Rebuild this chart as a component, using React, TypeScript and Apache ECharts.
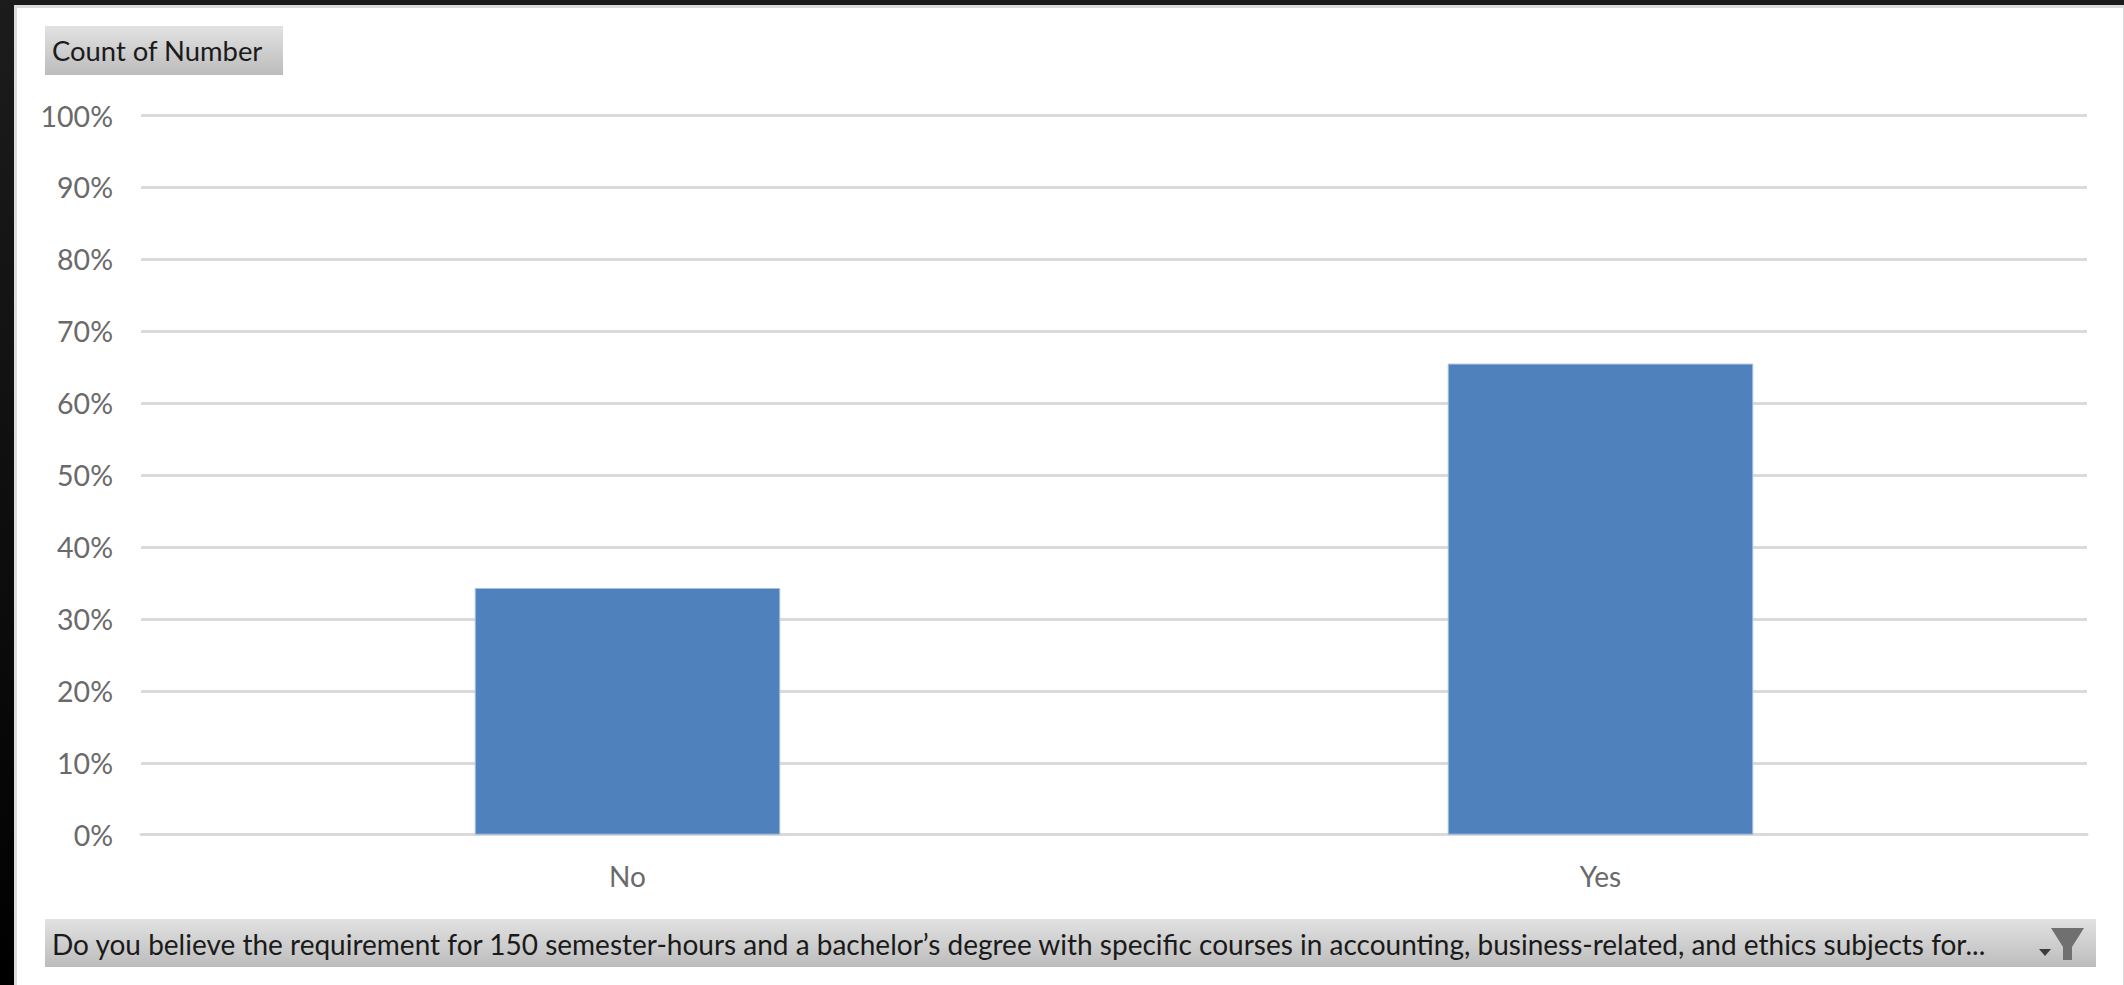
import React, { useEffect, useRef } from "react";
import * as echarts from "echarts";

const categories = ["No", "Yes"];
const shareOfResponses = [34.3, 65.5];
const valueButtonLabel = "Count of Number";
const fieldButtonLabel =
  "Do you believe the requirement for 150 semester-hours and a bachelor’s degree with specific courses in accounting, business-related, and ethics subjects for...";

const FONT = "Lato, Carlito, Calibri, sans-serif";

const buttonFill = () =>
  new echarts.graphic.LinearGradient(0, 0, 0, 1, [
    { offset: 0, color: "#e2e2e2" },
    { offset: 1, color: "#bcbcbc" },
  ]);

export default function App() {
  const ref = useRef<HTMLDivElement>(null);

  useEffect(() => {
    document.body.style.margin = "0";
    document.body.style.background = "#000";
    const chart = echarts.init(ref.current!, undefined, { renderer: "svg" });
    chart.setOption({
      animation: false,
      backgroundColor: "#1b1b1b",
      graphic: [
        {
          type: "rect",
          z: -20,
          shape: { x: 0, y: 0, width: 14, height: 985 },
          style: {
            fill: new echarts.graphic.LinearGradient(0, 0, 0, 1, [
              { offset: 0, color: "#1c1c1c" },
              { offset: 0.6, color: "#0c0c0c" },
              { offset: 1, color: "#000000" },
            ]),
          },
        },
        { type: "rect", z: -19, shape: { x: 14, y: 5, width: 2110, height: 980 }, style: { fill: "#dcdcdc" } },
        { type: "rect", z: -18, shape: { x: 17, y: 8, width: 2106, height: 977 }, style: { fill: "#ffffff" } },
        { type: "rect", z: -10, shape: { x: 45, y: 26, width: 238, height: 49 }, style: { fill: buttonFill() } },
        { type: "rect", z: -10, shape: { x: 45, y: 919, width: 2051, height: 48 }, style: { fill: buttonFill() } },
        {
          type: "text",
          x: 52,
          y: 50,
          style: { text: valueButtonLabel, font: `27.4px ${FONT}`, fill: "#1a1a1a", textVerticalAlign: "middle" },
        },
        {
          type: "text",
          x: 52,
          y: 943.5,
          style: { text: fieldButtonLabel, font: `28px ${FONT}`, fill: "#1a1a1a", textVerticalAlign: "middle" },
        },
        {
          type: "polygon",
          shape: { points: [[2051, 928], [2084, 928], [2072, 947], [2072, 960], [2063, 960], [2063, 947]] },
          style: { fill: "#707070" },
        },
        {
          type: "polygon",
          shape: { points: [[2039, 949], [2051, 949], [2045, 956]] },
          style: { fill: "#3c3c3c" },
        },
      ],
      grid: { left: 141, top: 115.5, width: 1946, height: 719.2 },
      xAxis: {
        type: "category",
        data: categories,
        axisTick: { show: false },
        axisLine: { lineStyle: { color: "#dadada", width: 3 } },
        axisLabel: { color: "#6a6a6a", fontFamily: FONT, fontSize: 28, margin: 27 },
      },
      yAxis: {
        type: "value",
        min: 0,
        max: 100,
        interval: 10,
        axisLine: { show: false },
        axisTick: { show: false },
        splitLine: { lineStyle: { color: "#dadada", width: 3 } },
        axisLabel: { color: "#6a6a6a", fontFamily: FONT, fontSize: 28.5, margin: 28, formatter: "{value}%" },
      },
      series: [
        {
          type: "bar",
          data: shareOfResponses,
          barWidth: 305.5,
          itemStyle: { color: "#4f81bd", borderColor: "#a5bee0", borderWidth: 1 },
        },
      ],
    });
    return () => chart.dispose();
  }, []);

  return <div ref={ref} style={{ position: "absolute", left: 0, top: 0, width: 2124, height: 985 }} />;
}
